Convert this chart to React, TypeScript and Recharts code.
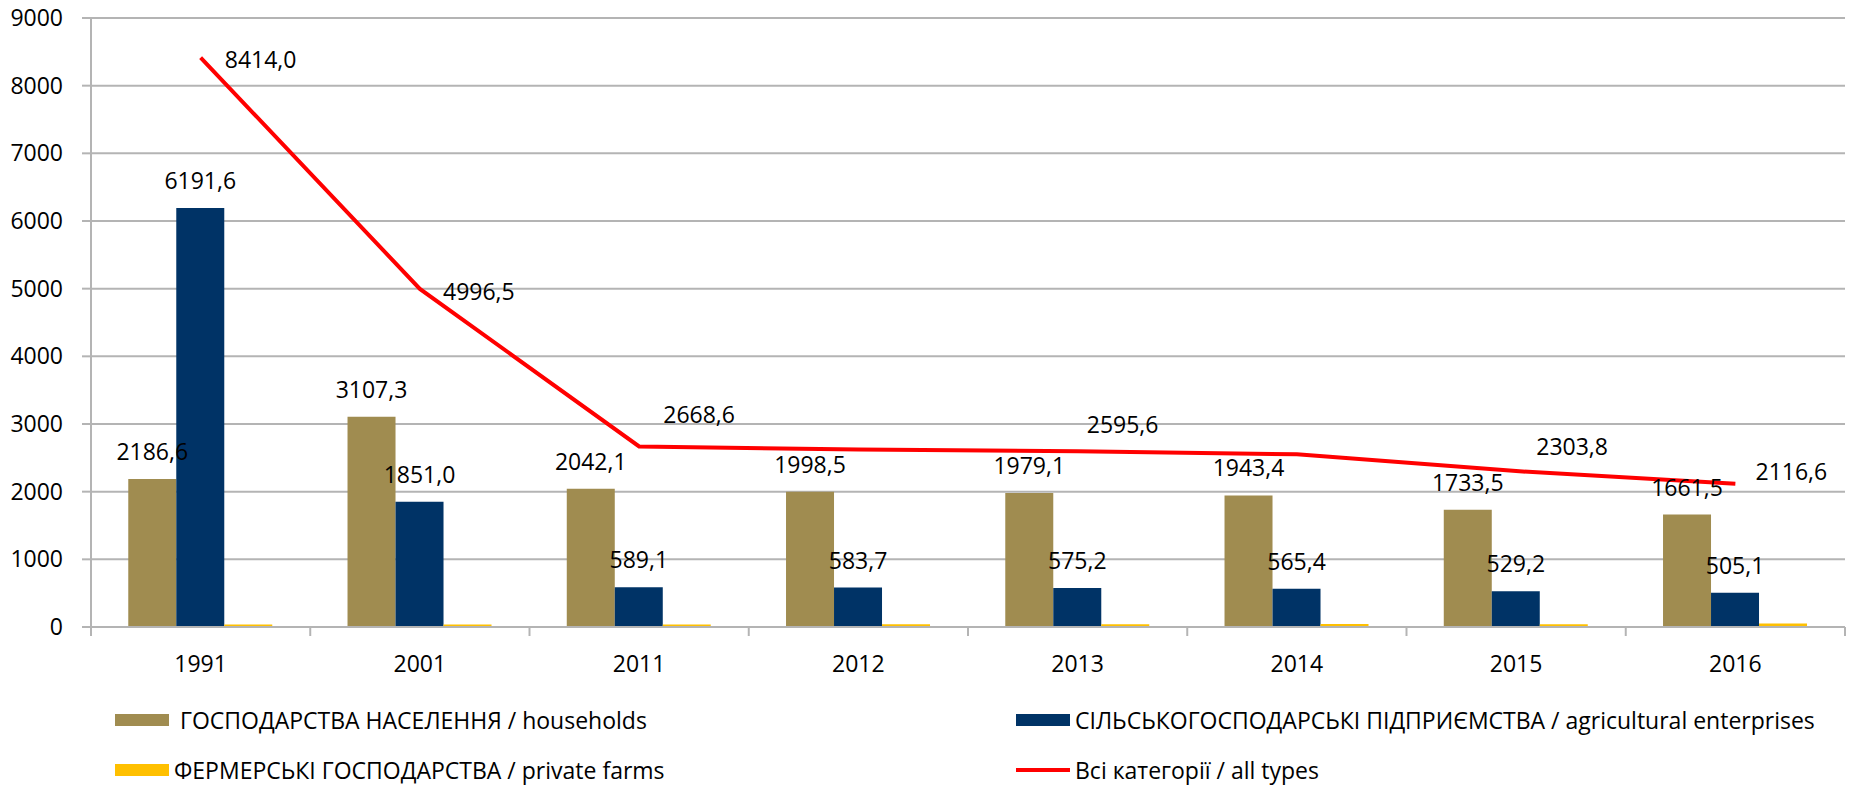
import React from "react";
import {
  Bar,
  CartesianGrid,
  ComposedChart,
  LabelList,
  Line,
  XAxis,
  YAxis,
} from "recharts";

const years = ["1991", "2001", "2011", "2012", "2013", "2014", "2015", "2016"];
const households = [2186.6, 3107.3, 2042.1, 1998.5, 1979.1, 1943.4, 1733.5, 1661.5];
const enterprises = [6191.6, 1851.0, 589.1, 583.7, 575.2, 565.4, 529.2, 505.1];
const farms = [35.8, 38.2, 37.4, 40.7, 41.3, 44.5, 41.1, 50.0];
const totals = [8414.0, 4996.5, 2668.6, 2622.9, 2595.6, 2553.3, 2303.8, 2116.6];
const yTicks = [0, 1000, 2000, 3000, 4000, 5000, 6000, 7000, 8000, 9000];

const data = years.map((year, i) => ({
  year,
  households: households[i],
  enterprises: enterprises[i],
  farms: farms[i],
  total: totals[i],
}));

// where each "all types" label sits relative to its point (null = not shown)
const totalLabelShift: ([number, number] | null)[] = [
  [60, 2],
  [59, 3],
  [60, -31],
  null,
  [45, -26],
  null,
  [56, -24],
  [56, -12],
];

const W = 1852;
const H = 785;
const MARGIN = { top: 18, right: 7, bottom: 128, left: 0 };
const Y_W = 91;
const X_H = 30;
const BAND = (W - MARGIN.left - MARGIN.right - Y_W) / years.length;

const FONT = "'Open Sans', sans-serif";
const GRID = "#B4B4B4";
const C_HOUSE = "#A08C50";
const C_ENT = "#003366";
const C_FARM = "#FFC000";
const C_TOTAL = "#FF0000";

const fmt = (v: number) => v.toFixed(1).replace(".", ",");

function XTick(props: any) {
  const { x, y, payload, index } = props;
  return (
    <g>
      <line x1={x - BAND / 2} x2={x - BAND / 2} y1={y} y2={y + 9} stroke={GRID} strokeWidth={2} />
      {index === years.length - 1 && (
        <line x1={x + BAND / 2} x2={x + BAND / 2} y1={y} y2={y + 9} stroke={GRID} strokeWidth={2} />
      )}
      <text x={x} y={y + 45} textAnchor="middle" fontSize={23} fontFamily={FONT} fill="#000">
        {payload.value}
      </text>
    </g>
  );
}

function BarLabel(props: any) {
  const { x, y, width, value } = props;
  return (
    <text x={x + width / 2} y={y - 19} textAnchor="middle" fontSize={23} fontFamily={FONT} fill="#000">
      {fmt(value)}
    </text>
  );
}

function TotalLabel(props: any) {
  const { x, y, value, index } = props;
  const s = totalLabelShift[index];
  if (!s) return null;
  return (
    <text x={x + s[0]} y={y + s[1] + 8} textAnchor="middle" fontSize={23} fontFamily={FONT} fill="#000">
      {fmt(value)}
    </text>
  );
}

const legendText: React.CSSProperties = {
  position: "absolute",
  fontFamily: FONT,
  fontSize: 23,
  color: "#000",
  lineHeight: "30px",
  whiteSpace: "nowrap",
};

export default function App() {
  return (
    <div style={{ position: "absolute", left: 0, top: 0, width: W, height: H, background: "#fff" }}>
      <ComposedChart
        width={W}
        height={H}
        data={data}
        margin={MARGIN}
        barCategoryGap="17%"
        barGap={0}
      >
        <CartesianGrid vertical={false} stroke={GRID} strokeWidth={2} />
        <XAxis
          dataKey="year"
          height={X_H}
          tickSize={0}
          tickMargin={0}
          axisLine={{ stroke: GRID, strokeWidth: 2 }}
          tickLine={false}
          tick={<XTick />}
          interval={0}
        />
        <YAxis
          width={Y_W}
          domain={[0, 9000]}
          ticks={yTicks}
          interval={0}
          tickSize={9}
          tickMargin={19}
          axisLine={{ stroke: GRID, strokeWidth: 2 }}
          tickLine={{ stroke: GRID, strokeWidth: 2 }}
          tick={{ fontSize: 23, fontFamily: FONT, fill: "#000" }}
        />
        <Bar dataKey="households" fill={C_HOUSE} isAnimationActive={false}>
          <LabelList dataKey="households" content={<BarLabel />} />
        </Bar>
        <Bar dataKey="enterprises" fill={C_ENT} isAnimationActive={false}>
          <LabelList dataKey="enterprises" content={<BarLabel />} />
        </Bar>
        <Bar dataKey="farms" fill={C_FARM} isAnimationActive={false} />
        <Line
          dataKey="total"
          type="linear"
          stroke={C_TOTAL}
          strokeWidth={4}
          dot={false}
          activeDot={false}
          isAnimationActive={false}
        >
          <LabelList dataKey="total" content={<TotalLabel />} />
        </Line>
      </ComposedChart>

      <div style={{ position: "absolute", left: 115, top: 714, width: 54, height: 12, background: C_HOUSE }} />
      <div style={{ ...legendText, left: 180, top: 705 }}>ГОСПОДАРСТВА НАСЕЛЕННЯ / households</div>

      <div style={{ position: "absolute", left: 1016, top: 714, width: 54, height: 12, background: C_ENT }} />
      <div style={{ ...legendText, left: 1075, top: 705 }}>
        СІЛЬСЬКОГОСПОДАРСЬКІ ПІДПРИЄМСТВА / agricultural enterprises
      </div>

      <div style={{ position: "absolute", left: 115, top: 764, width: 54, height: 12, background: C_FARM }} />
      <div style={{ ...legendText, left: 174, top: 755 }}>ФЕРМЕРСЬКІ ГОСПОДАРСТВА / private farms</div>

      <div style={{ position: "absolute", left: 1016, top: 768, width: 54, height: 4, background: C_TOTAL }} />
      <div style={{ ...legendText, left: 1075, top: 755 }}>Всі категорії / all types</div>
    </div>
  );
}
